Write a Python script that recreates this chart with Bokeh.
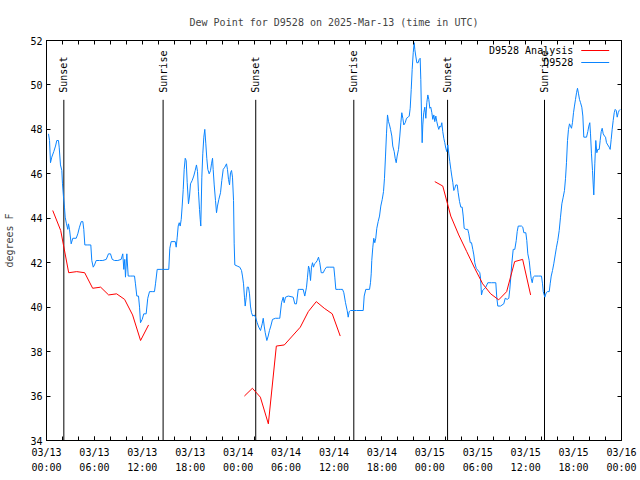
from math import pi
from bokeh.plotting import figure
from bokeh.models import FixedTicker, LinearAxis, Range1d, Label, Arrow
from bokeh.embed import file_html
from bokeh.resources import INLINE
from bokeh.core.properties import value

FONT = "DejaVu Sans Mono"

# ---------------- data (hours since 2025-03-13 00:00 UTC) ----------------
obs_hours = [
    0.25, 0.38, 0.50, 0.66, 0.91, 1.13, 1.29, 1.50, 1.59, 1.75, 1.92, 2.00, 2.13, 2.25, 2.34, 2.50,
    2.67, 2.75, 2.88, 3.09, 3.29, 3.72, 3.92, 4.13, 4.35, 4.55, 4.67, 4.80, 5.17, 5.55, 5.67, 5.85,
    6.01, 6.22, 6.64, 7.05, 7.48, 7.76, 8.01, 8.23, 8.51, 8.93, 9.35, 9.55, 9.68, 9.80, 9.89, 10.06,
    10.23, 10.52, 10.81, 11.02, 11.14, 11.31, 11.52, 11.65, 11.77, 11.98, 12.18, 12.48, 12.68, 12.90,
    13.31, 13.52, 13.65, 13.86, 14.36, 15.31, 15.44, 15.61, 16.12, 16.24, 16.37, 16.49, 16.62, 16.74,
    16.87, 16.99, 17.12, 17.24, 17.37, 17.49, 17.62, 17.78, 17.91, 18.03, 18.24, 18.44, 18.62, 18.78,
    18.91, 19.03, 19.16, 19.25, 19.32, 19.45, 19.57, 19.70, 19.82, 19.95, 20.07, 20.20, 20.37, 20.54,
    20.66, 20.79, 20.87, 21.00, 21.16, 21.29, 21.41, 21.58, 21.79, 21.95, 22.13, 22.33, 22.54, 22.66,
    22.79, 22.92, 23.04, 23.17, 23.29, 23.42, 23.50, 23.58, 23.88, 24.20, 24.42, 24.54, 24.67, 24.79,
    24.88, 25.01, 25.13, 25.29, 25.42, 25.54, 25.67, 25.83, 26.01, 26.17, 26.38, 26.58, 26.80, 27.01,
    27.14, 27.26, 27.39, 27.59, 27.76, 27.92, 28.09, 28.30, 28.68, 29.05, 29.21, 29.43, 29.64, 29.76,
    29.93, 30.27, 30.89, 31.09, 31.30, 31.52, 31.72, 32.14, 32.34, 32.56, 32.68, 32.81, 32.93, 33.06,
    33.18, 33.31, 33.43, 33.56, 33.72, 33.90, 34.06, 34.22, 34.40, 34.65, 34.85, 35.06, 35.47, 35.98,
    36.10, 36.23, 36.53, 36.85, 37.07, 37.23, 37.44, 37.65, 37.78, 37.90, 38.07, 38.82, 39.66, 39.78,
    39.98, 40.45, 40.57, 40.66, 40.73, 40.86, 40.98, 41.11, 41.23, 41.36, 41.53, 41.70, 41.86, 42.04,
    42.20, 42.32, 42.45, 42.57, 42.70, 42.83, 42.95, 43.08, 43.24, 43.36, 43.54, 43.66, 43.79, 43.91,
    44.08, 44.24, 44.37, 44.49, 44.62, 44.74, 44.92, 45.08, 45.29, 45.42, 45.54, 45.67, 45.79, 45.92,
    46.04, 46.12, 46.24, 46.37, 46.54, 46.67, 46.79, 46.87, 46.96, 47.04, 47.12, 47.24, 47.37, 47.50,
    47.62, 47.75, 47.87, 48.00, 48.12, 48.25, 48.37, 48.50, 48.62, 48.75, 48.87, 49.00, 49.12, 49.25,
    49.37, 49.50, 49.62, 49.75, 49.87, 50.00, 50.12, 50.25, 50.38, 50.50, 50.63, 50.75, 50.88, 51.00,
    51.13, 51.25, 51.43, 51.55, 51.72, 51.88, 52.05, 52.18, 52.30, 52.50, 52.75, 52.88, 53.06, 53.22,
    53.38, 53.51, 53.63, 53.81, 54.26, 54.35, 54.47, 54.60, 54.76, 55.01, 55.26, 55.72, 56.26, 56.38,
    56.51, 56.85, 57.26, 57.44, 57.69, 57.89, 58.01, 58.14, 58.26, 58.44, 58.64, 58.82, 58.94, 59.07,
    59.48, 59.64, 59.77, 60.02, 60.14, 60.27, 60.44, 60.57, 60.69, 60.82, 60.94, 61.11, 61.57, 61.98,
    62.11, 62.20, 62.40, 62.57, 62.73, 62.95, 63.07, 63.20, 63.36, 63.52, 63.70, 63.86, 64.02, 64.20,
    64.36, 64.53, 64.70, 64.86, 64.99, 65.11, 65.24, 65.36, 65.49, 65.61, 65.74, 65.86, 65.99, 66.11,
    66.24, 66.37, 66.49, 66.62, 66.74, 66.87, 67.03, 67.16, 67.28, 67.62, 67.78, 67.91, 68.03, 68.12,
    68.24, 68.37, 68.46, 68.53, 68.66, 68.78, 68.91, 69.03, 69.21, 69.33, 69.46, 69.58, 69.71, 69.87,
    70.00, 70.12, 70.28, 70.46, 70.58, 70.71, 70.83, 70.96, 71.09, 71.21, 71.34, 71.46, 71.59, 71.71,
    71.84,
]
obs_dewpt = [
    47.8, 47.5, 46.5, 46.75, 47.0, 47.25, 47.5, 47.5, 47.2, 46.4, 46.15, 45.55, 44.95, 44.5, 44.05, 43.75,
    43.5, 43.75, 43.5, 42.85, 43.1, 43.1, 43.3, 43.6, 43.85, 43.85, 43.5, 42.8, 42.8, 42.8, 42.1, 41.8,
    41.9, 42.1, 42.1, 42.1, 42.15, 42.4, 42.4, 42.15, 42.1, 42.1, 42.15, 42.4, 41.7, 42.15, 41.35, 42.4,
    41.4, 41.4, 41.4, 41.4, 41.05, 40.5, 40.5, 40.0, 39.3, 39.45, 39.7, 39.7, 40.4, 40.7,
    40.7, 40.7, 41.05, 41.7, 41.7, 41.7, 42.65, 42.95, 42.95, 42.7, 43.15, 43.65, 43.8, 43.65,
    43.95, 44.55, 45.3, 46.2, 46.7, 46.6, 45.6, 44.65, 45.0, 45.55, 45.7, 45.9, 46.15, 46.4,
    46.1, 45.2, 44.4, 43.95, 43.65, 45.85, 46.9, 47.65, 48.0, 47.35, 46.7, 46.2, 46.0, 46.15,
    46.45, 46.7, 46.2, 45.5, 44.8, 44.25, 44.55, 44.85, 45.15, 45.7, 46.2, 46.3, 46.45, 46.2,
    45.75, 45.5, 46.05, 46.15, 45.85, 44.8, 42.85, 41.9, 41.85, 41.8, 41.65, 41.4, 41.05, 40.45,
    40.05, 40.45, 40.9, 40.9, 40.6, 40.05, 39.75, 39.6, 39.65, 39.55, 39.3, 39.1, 38.95, 39.25,
    39.5, 39.15, 38.85, 38.5, 38.7, 38.95, 39.15, 39.45, 39.5, 39.5, 39.5, 40.2, 40.45, 40.2,
    40.45, 40.5, 40.45, 40.15, 40.15, 40.8, 40.8, 40.8, 40.5, 40.9, 41.35, 41.85, 41.7, 41.2,
    41.8, 42.0, 41.8, 41.95, 42.0, 42.1, 42.25, 42.0, 41.55, 41.55, 41.7, 41.8, 41.8, 41.8,
    41.35, 40.8, 40.8, 40.8, 40.8, 40.65, 40.2, 39.85, 39.55, 39.8, 39.85, 39.85, 39.85, 40.5,
    40.8, 40.8, 41.1, 41.5, 42.1, 42.7, 43.1, 42.9, 43.1, 43.55, 43.85, 44.1, 44.55, 44.85,
    45.2, 45.8, 46.8, 47.8, 48.65, 48.35, 48.2, 48.0, 47.7, 47.25, 47.0, 46.7, 46.5, 46.8,
    47.1, 47.7, 48.3, 48.75, 48.5, 48.2, 48.3, 48.5, 48.55, 48.6, 48.95, 49.8, 50.7, 51.45,
    51.9, 51.6, 51.3, 51.0, 51.0, 51.15, 51.2, 50.25, 48.6, 47.4, 48.2, 48.75, 49.0, 48.5,
    49.2, 49.55, 49.35, 48.95, 49.0, 48.75, 48.45, 48.65, 48.35, 48.6, 48.35, 48.15, 48.0, 48.15,
    48.1, 48.3, 47.9, 47.6, 47.4, 47.15, 47.0, 47.3, 46.9, 46.55, 46.2, 45.9, 45.6, 45.25,
    45.35, 45.5, 45.5, 45.15, 44.75, 44.5, 44.5, 44.1, 43.55, 43.5, 43.5, 43.3, 42.9, 42.9,
    42.6, 42.35, 42.0, 41.75, 41.55, 41.3, 40.55, 40.75, 40.8, 40.9, 41.1, 41.1, 41.1, 40.45,
    40.05, 40.05, 40.15, 40.4, 40.35, 40.4, 40.8, 41.35, 41.95, 42.6, 42.6, 43.0, 43.4, 43.65,
    43.65, 43.6, 43.35, 43.35, 43.0, 42.4, 42.1, 41.65, 41.3, 41.1, 41.35, 41.4, 41.4, 41.4,
    41.05, 40.7, 40.45, 40.65, 40.7, 40.7, 41.05, 41.4, 41.65, 41.95, 42.35, 42.7, 43.0, 43.45,
    44.05, 44.65, 44.95, 45.25, 45.8, 46.5, 47.5, 48.0, 48.25, 48.15, 48.05, 48.3, 48.75, 49.05,
    49.35, 49.65, 49.85, 49.6, 49.35, 49.2, 49.0, 48.6, 47.65, 47.65, 47.9, 48.15, 48.3, 47.8,
    46.9, 46.15, 45.5, 45.05, 46.45, 47.5, 46.95, 47.1, 47.1, 47.5, 47.9, 48.05, 47.8, 47.7,
    47.65, 47.4, 47.3, 47.2, 47.1, 47.55, 48.0, 48.4, 48.75, 48.9, 48.85, 48.55, 48.75, 48.85,
    48.9,
]

NAN = float("nan")
anl_hours = [
    0.78, 1.78, 2.78, 3.78, 4.78, 5.78, 6.78, 7.78, 8.78, 9.78, 10.78, 11.78, 12.78, NAN,
    24.78, 25.78, 26.78, 27.78, 28.78, 29.78, 30.78, 31.78, 32.78, 33.78, 34.78, 35.78, 36.78, NAN,
    48.62, 49.62, 50.62, 51.62, 52.62, 53.62, 54.62, 55.62, 56.62, 57.62, 58.62, 59.62, 60.62,
]
anl_dewpt = [
    44.35, 43.45, 41.55, 41.6, 41.55, 40.85, 40.9, 40.55, 40.6, 40.35, 39.65, 38.5, 39.2, NAN,
    36.0, 36.35, 35.95, 34.75, 38.25, 38.3, 38.7, 39.1, 39.8, 40.25, 39.95, 39.7, 38.7, NAN,
    45.65, 45.45, 44.1, 43.25, 42.5, 41.75, 41.05, 40.6, 40.33, 40.7, 42.05, 42.15, 40.55,
]

sun_hours = [2.17, 14.6, 26.2, 38.48, 50.22, 62.36]
sun_names = ["Sunset", "Sunrise", "Sunset", "Sunrise", "Sunset", "Sunrise"]

x_tick_hours = [0, 6, 12, 18, 24, 30, 36, 42, 48, 54, 60, 66, 72]
x_tick_labels = ["03/13\n00:00", "03/13\n06:00", "03/13\n12:00", "03/13\n18:00",
                 "03/14\n00:00", "03/14\n06:00", "03/14\n12:00", "03/14\n18:00",
                 "03/15\n00:00", "03/15\n06:00", "03/15\n12:00", "03/15\n18:00",
                 "03/16\n00:00"]
x_minor_hours = list(range(0, 73, 2))
y_ticks = [34, 36, 38, 40, 42, 44, 46, 48, 50, 52]

RED = "#ff0000"
BLUE = "#0a84ff"

# ---------------- figure ----------------
p = figure(width=638, height=478, output_backend="svg", toolbar_location=None,
           x_range=Range1d(0, 72), y_range=Range1d(34, 52),
           min_border_left=46, min_border_right=17, min_border_top=40, min_border_bottom=38)
p.xgrid.visible = False
p.ygrid.visible = False
p.outline_line_color = "black"
p.outline_line_width = 1
p.background_fill_color = "white"
p.border_fill_color = "white"

p.title.text = "Dew Point for D9528 on 2025-Mar-13 (time in UTC)"
p.title.align = "center"
p.title.text_font = FONT
p.title.text_font_size = "10px"
p.title.text_font_style = "normal"
p.title.standoff = 26


def style_axis(ax):
    ax.axis_line_color = "black"
    ax.major_tick_line_color = "black"
    ax.major_tick_in = 4
    ax.major_tick_out = 0
    ax.minor_tick_line_color = "black"
    ax.minor_tick_in = 4
    ax.minor_tick_out = 0
    ax.major_label_text_font = FONT
    ax.major_label_text_font_size = "10px"
    ax.major_label_text_color = "black"


xb = p.xaxis[0]
xb.ticker = FixedTicker(ticks=x_tick_hours, minor_ticks=x_minor_hours)
xb.major_label_overrides = dict(zip(x_tick_hours, x_tick_labels))
style_axis(xb)
xb.major_label_standoff = 6
xb.major_label_text_line_height = 1.4

yl = p.yaxis[0]
yl.ticker = FixedTicker(ticks=y_ticks, minor_ticks=[])
style_axis(yl)
yl.major_label_standoff = 4
yl.axis_label = "degrees F"
yl.axis_label_text_font = FONT
yl.axis_label_text_font_size = "10px"
yl.axis_label_text_font_style = "normal"
yl.axis_label_standoff = 12

# mirrored tick marks (no labels) on top and right
xt = LinearAxis(ticker=FixedTicker(ticks=[], minor_ticks=x_minor_hours))
style_axis(xt)
xt.major_label_standoff = 0
p.add_layout(xt, "above")

yr = LinearAxis(ticker=FixedTicker(ticks=[], minor_ticks=y_ticks))
style_axis(yr)
yr.major_label_standoff = 0
p.add_layout(yr, "right")

# sunrise / sunset markers
p.segment(x0=sun_hours, y0=[34] * len(sun_hours), x1=sun_hours, y1=[49.33] * len(sun_hours),
          line_color="black", line_width=1)
p.text(x=sun_hours, y=[49.65] * len(sun_hours), text=sun_names, angle=pi / 2,
       text_align="left", text_baseline="middle", text_font=value(FONT),
       text_font_size="10px", text_color="black")

# series
p.line(obs_hours, obs_dewpt, line_color=BLUE, line_width=1)
p.line(anl_hours, anl_dewpt, line_color=RED, line_width=1)

# legend (gnuplot style: text then sample)
for lab, col, yv in [("D9528 Analysis", RED, 51.55), ("D9528", BLUE, 51.01)]:
    p.add_layout(Label(x=65.96, y=yv, text=lab, text_align="right", text_baseline="middle",
                       text_font=FONT, text_font_size="10px", text_color="black"))
    p.add_layout(Arrow(end=None, start=None, x_start=66.96, y_start=yv, x_end=70.46, y_end=yv,
                       line_color=col, line_width=1))

open("out.html", "w").write(file_html(p, INLINE))
